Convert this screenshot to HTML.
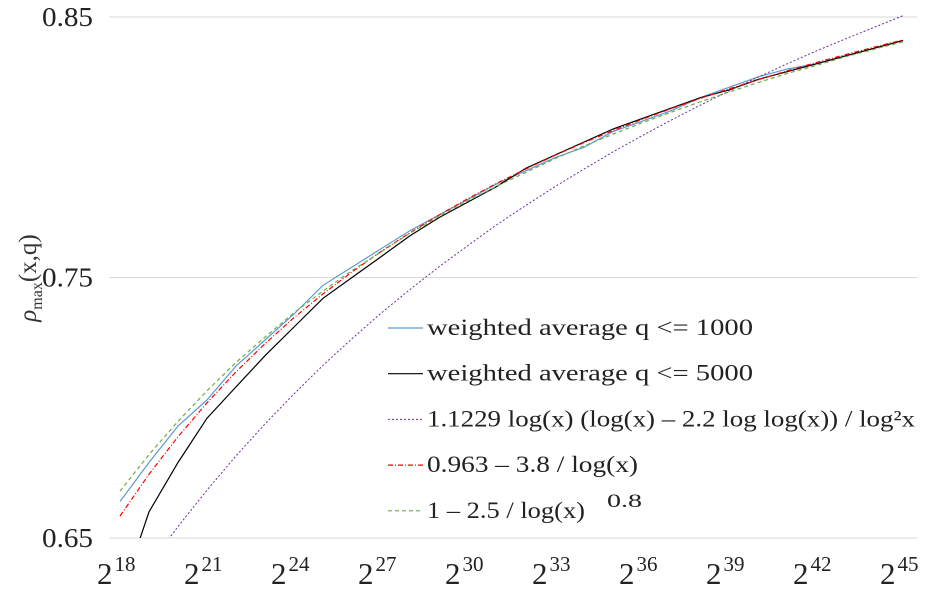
<!DOCTYPE html>
<html><head><meta charset="utf-8"><style>
body{margin:0;background:#fff}
svg{display:block;font-family:"Liberation Serif",serif}
</style></head><body>
<svg id="chart" width="930" height="590" viewBox="0 0 930 590" xmlns="http://www.w3.org/2000/svg">
<defs><clipPath id="plotclip"><rect x="105" y="0" width="825" height="538"/></clipPath></defs>
<g id="grid"></g>
<g id="yticks"></g>
<g id="xticks"></g>
<g id="series" clip-path="url(#plotclip)"></g>
<text transform="translate(36,278) rotate(-90)" text-anchor="middle" font-size="25" fill="#333"><tspan font-style="italic">ρ</tspan><tspan font-size="16" dy="6">max</tspan><tspan dy="-6">(x,q)</tspan></text>
<g id="legend"></g>
</svg>
<script>
const exponents=[18,19,20,21,22,23,24,25,26,27,28,29,30,31,32,33,34,35,36,37,38,39,40,41,42,43,44,45];
const blueVals=[0.664,0.679,0.693,0.703,0.716,0.726,0.736,0.747,0.754,0.761,0.768,0.774,0.780,0.786,0.791,0.796,0.800,0.806,0.810,0.814,0.819,0.823,0.827,0.830,0.832,0.835,0.838,0.841];
const blackVals=[0.627,0.660,0.679,0.696,0.708,0.720,0.731,0.742,0.750,0.758,0.766,0.773,0.779,0.785,0.792,0.797,0.802,0.807,0.811,0.815,0.819,0.822,0.826,0.829,0.832,0.835,0.838,0.841];
const purpleVals=[0.6232,0.6394,0.6544,0.6684,0.6815,0.6938,0.7053,0.7163,0.7265,0.7363,0.7454,0.7541,0.7623,0.7703,0.7777,0.7849,0.7916,0.7982,0.8044,0.8104,0.8161,0.8216,0.8269,0.8320,0.8369,0.8415,0.8460,0.8505];
const redVals=[0.6584,0.6745,0.6889,0.7019,0.7138,0.7246,0.7346,0.7437,0.7521,0.7600,0.7672,0.7740,0.7803,0.7862,0.7917,0.7969,0.8018,0.8064,0.8107,0.8148,0.8187,0.8224,0.8259,0.8293,0.8325,0.8355,0.8384,0.8412];
const greenVals=[0.6680,0.6820,0.6948,0.7065,0.7174,0.7271,0.7365,0.7448,0.7527,0.7598,0.7670,0.7734,0.7795,0.7851,0.7904,0.7956,0.8005,0.8050,0.8094,0.8134,0.8174,0.8212,0.8248,0.8283,0.8314,0.8347,0.8376,0.8405];
const yTicks=[0.65,0.75,0.85];
const yTickLabels=["0.65","0.75","0.85"];
const xTicks=[18,21,24,27,30,33,36,39,42,45];
const legendLabels=["weighted average q <= 1000","weighted average q <= 5000","1.1229 log(x) (log(x) \u2013 2.2 log log(x)) / log\u00b2x","0.963 \u2013 3.8 / log(x)","1 \u2013 2.5 / log(x)"];
const legendWidths=[326,326,488,211,158];

const NS="http://www.w3.org/2000/svg";
const xs=e=>120+(e-18)*(903-120)/27;
const ys=v=>538-(v-0.65)*(538-17)/0.2;
function mk(tag,attrs,parent){const el=document.createElementNS(NS,tag);for(const k in attrs)el.setAttribute(k,attrs[k]);parent.appendChild(el);return el;}
const grid=document.getElementById('grid'),yt=document.getElementById('yticks'),xt=document.getElementById('xticks'),ser=document.getElementById('series'),leg=document.getElementById('legend');
yTicks.forEach((v,i)=>{
  const l=mk('line',{x1:109,x2:917,y1:ys(v),y2:ys(v),stroke:'#d9d9d9','stroke-width':1},grid);
  
  
  const t=mk('text',{x:42,y:ys(v)+9,'font-size':27,fill:'#222',textLength:51,lengthAdjust:'spacingAndGlyphs'},yt);
  t.textContent=yTickLabels[i];
  
  
});
xTicks.forEach(e=>{
  const t=mk('text',{x:xs(e)-23,y:584,'font-size':31,fill:'#222'},xt);
  
  
  const a=document.createElementNS(NS,'tspan');a.textContent='2';t.appendChild(a);
  const b=document.createElementNS(NS,'tspan');b.setAttribute('font-size','21');b.setAttribute('dx','2');b.setAttribute('dy','-13');b.textContent=String(e);t.appendChild(b);
});
const styles=[
 {vals:blueVals,color:'#5b9bd5',dash:'',w:1.2,name:'series-weighted-1000'},
 {vals:blackVals,color:'#000',dash:'',w:1.2,name:'series-weighted-5000'},
 {vals:purpleVals,color:'#7030a0',dash:'2 2',w:1,name:'series-loglog-formula'},
 {vals:redVals,color:'#ff0000',dash:'5 2 1 2',w:1.2,name:'series-0963-formula'},
 {vals:greenVals,color:'#70ad47',dash:'4 3',w:1.2,name:'series-power-formula'}
];
styles.forEach(s=>{
  const d=s.vals.map((v,i)=>(i?'L':'M')+xs(exponents[i]).toFixed(1)+','+ys(v).toFixed(1)).join(' ');
  const p=mk('path',{d:d,fill:'none',stroke:s.color,'stroke-width':s.w},ser);
  if(s.dash)p.setAttribute('stroke-dasharray',s.dash);
  
  
});
styles.forEach((s,i)=>{
  const y=328+i*45.7;
  const l=mk('line',{x1:388,x2:423,y1:y,y2:y,stroke:s.color,'stroke-width':s.w},leg);
  if(s.dash)l.setAttribute('stroke-dasharray',s.dash);
  
  
  const t=mk('text',{x:427,y:y+7,'font-size':23,fill:'#222',textLength:legendWidths[i],lengthAdjust:'spacingAndGlyphs'},leg);
  t.textContent=legendLabels[i];
  
  
  if(i===4){const sp=mk('text',{x:607,y:y-4,'font-size':19,fill:'#222',textLength:35,lengthAdjust:'spacingAndGlyphs'},leg);sp.textContent='0.8';
    
    }
});
</script>
</body></html>
